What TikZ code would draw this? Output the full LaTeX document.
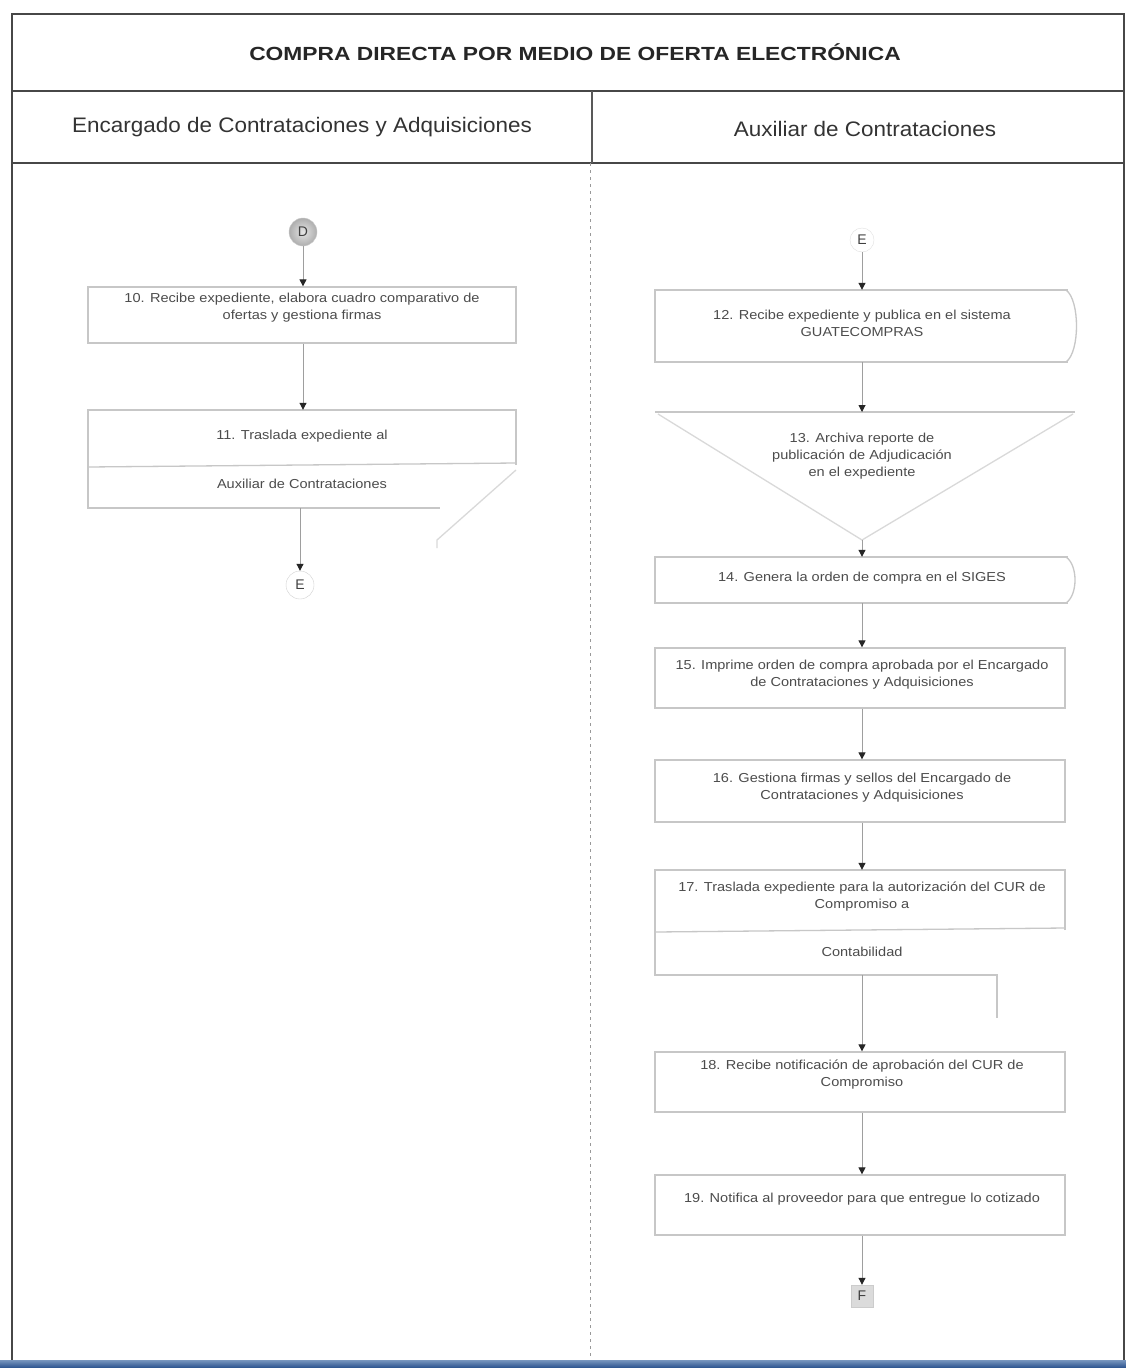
\documentclass[tikz,border=0pt]{standalone}
\usepackage{fontspec}
\setmainfont{Liberation Sans}
\usetikzlibrary{arrows.meta}
\definecolor{bandtop}{RGB}{120,150,190}
\definecolor{bandbot}{RGB}{40,80,140}
% step texts: slightly widened centred lines
\newcommand\steptext[1]{\scalebox{1.12}[1]{\begin{tabular}{@{}c@{}}#1\end{tabular}}}
\begin{document}
\begin{tikzpicture}[x=1pt,y=-1pt,
  frame/.style={draw=black!72,line width=1.6pt},
  boxline/.style={draw=black!22,line width=1.3pt},
  boxtext/.style={text=black!70,font=\fontsize{13}{17}\selectfont,align=center,inner sep=0pt},
  stepbox/.style={boxline,rectangle,inner sep=0pt},
  flow/.style={draw=black!38,line width=1pt,-{Triangle[length=7pt,width=7pt,color=black!85]}},
  conn/.style={circle,minimum size=28pt,inner sep=0pt,font=\fontsize{14}{14}\selectfont,text=black!75}]
\useasboundingbox (0,0) rectangle (1126,1368);
\fill[white] (0,0) rectangle (1126,1368);

% outer frame, title row and lane headers
\draw[frame] (12,1360) -- (12,14) -- (1124,14) -- (1124,1360);
\draw[frame] (12,91) -- (1124,91);
\draw[frame] (12,163) -- (1124,163);
\draw[black!65,line width=1.2pt] (592,91) -- (592,163);
\draw[black!40,line width=1pt,dash pattern=on 3pt off 4pt] (590,163) -- (590,1360);
\node[font=\bfseries\fontsize{19}{19}\selectfont,text=black!85] (title) at (575,52) {\scalebox{1.2}[1]{COMPRA DIRECTA POR MEDIO DE OFERTA ELECTRÓNICA}};
\node[font=\fontsize{21}{21}\selectfont,text=black!80] (lane1) at (302,127) {\scalebox{1.07}[1]{Encargado de Contrataciones y Adquisiciones}};
\node[font=\fontsize{21}{21}\selectfont,text=black!80] (lane2) at (865,129) {\scalebox{1.07}[1]{Auxiliar de Contrataciones}};

% bottom edge band
\shade[top color=bandtop,bottom color=bandbot] (0,1360) rectangle (1126,1368);

% ---------- lane 1 ----------
\node[conn,draw=black!20,inner color=black!10,outer color=black!32] (D) at (303,232) {D};
\node[stepbox,minimum width=428pt,minimum height=56pt] (b10) at (302,315) {};
\node[boxtext] at (302,308) {\steptext{10. Recibe expediente, elabora cuadro comparativo de\\ofertas y gestiona firmas}};
\node[minimum width=428pt,minimum height=98pt,inner sep=0pt] (b11) at (302,459) {};
\draw[boxline] (516,465) -- (516,410) -- (88,410) -- (88,508) -- (440,508);
\draw[boxline] (88,467) -- (516,463);
\draw[boxline,draw=black!15] (516,470) -- (437,540) -- (437,548);
\node[boxtext] at (302,436) {\steptext{11. Traslada expediente al}};
\node[boxtext] at (302,485) {\steptext{Auxiliar de Contrataciones}};
\node[conn,draw=black!18] (E1) at (300,585) {E};

\draw[flow] (D) -- (b10.north -| D);
\draw[flow] (b10.south -| D) -- (b11.north -| D);
\draw[flow] (b11.south -| E1) -- (E1);

% ---------- lane 2 ----------
\node[conn,minimum size=24pt,draw=black!12] (E2) at (862,240) {E};
\node[minimum width=413pt,minimum height=72pt,inner sep=0pt] (b12) at (861.5,326) {};
\draw[boxline] (1068,290) -- (655,290) -- (655,362) -- (1068,362);
\draw[boxline] (1066,290) .. controls (1080,300) and (1080,352) .. (1066,362);
\node[boxtext] at (862,325) {\steptext{12. Recibe expediente y publica en el sistema\\GUATECOMPRAS}};

\coordinate (t13) at (862,412);
\coordinate (a13) at (862,540);
\draw[boxline] (655,412) -- (1075,412);
\draw[boxline,draw=black!15] (658,414) -- (a13) -- (1073,414);
\node[boxtext] at (862,456) {\steptext{13. Archiva reporte de\\publicación de Adjudicación\\en el expediente}};

\node[minimum width=413pt,minimum height=46pt,inner sep=0pt] (b14) at (861.5,580) {};
\draw[boxline] (1068,557) -- (655,557) -- (655,603) -- (1068,603);
\draw[boxline] (1066,557) .. controls (1078,565) and (1078,595) .. (1066,603);
\node[boxtext] at (862,578) {\steptext{14. Genera la orden de compra en el SIGES}};

\node[stepbox,minimum width=410pt,minimum height=60pt] (b15) at (860,678) {};
\node[boxtext] at (862,675) {\steptext{15. Imprime orden de compra aprobada por el Encargado\\de Contrataciones y Adquisiciones}};

\node[stepbox,minimum width=410pt,minimum height=62pt] (b16) at (860,791) {};
\node[boxtext] at (862,788) {\steptext{16. Gestiona firmas y sellos del Encargado de\\Contrataciones y Adquisiciones}};

\node[minimum width=410pt,minimum height=105pt,inner sep=0pt] (b17) at (860,922.5) {};
\draw[boxline] (1065,930) -- (1065,870) -- (655,870) -- (655,975) -- (997,975) -- (997,1018);
\draw[boxline] (655,932) -- (1065,928);
\node[boxtext] at (862,897) {\steptext{17. Traslada expediente para la autorización del CUR de\\Compromiso a}};
\node[boxtext] at (862,953) {\steptext{Contabilidad}};

\node[stepbox,minimum width=410pt,minimum height=60pt] (b18) at (860,1082) {};
\node[boxtext] at (862,1075) {\steptext{18. Recibe notificación de aprobación del CUR de\\Compromiso}};

\node[stepbox,minimum width=410pt,minimum height=60pt] (b19) at (860,1205) {};
\node[boxtext] at (862,1199) {\steptext{19. Notifica al proveedor para que entregue lo cotizado}};

\node[rectangle,minimum size=22pt,inner sep=0pt,fill=black!14,draw=black!20,font=\fontsize{14}{14}\selectfont,text=black!75] (F) at (862,1296) {F};

\draw[flow] (E2) -- (b12.north -| E2);
\draw[flow] (b12.south -| E2) -- (t13);
\draw[flow] (a13) -- (b14.north -| a13);
\draw[flow] (b14.south -| a13) -- (b15.north -| a13);
\draw[flow] (b15.south -| a13) -- (b16.north -| a13);
\draw[flow] (b16.south -| a13) -- (b17.north -| a13);
\draw[flow] (b17.south -| a13) -- (b18.north -| a13);
\draw[flow] (b18.south -| a13) -- (b19.north -| a13);
\draw[flow] (b19.south -| a13) -- (F);
\end{tikzpicture}
\end{document}
